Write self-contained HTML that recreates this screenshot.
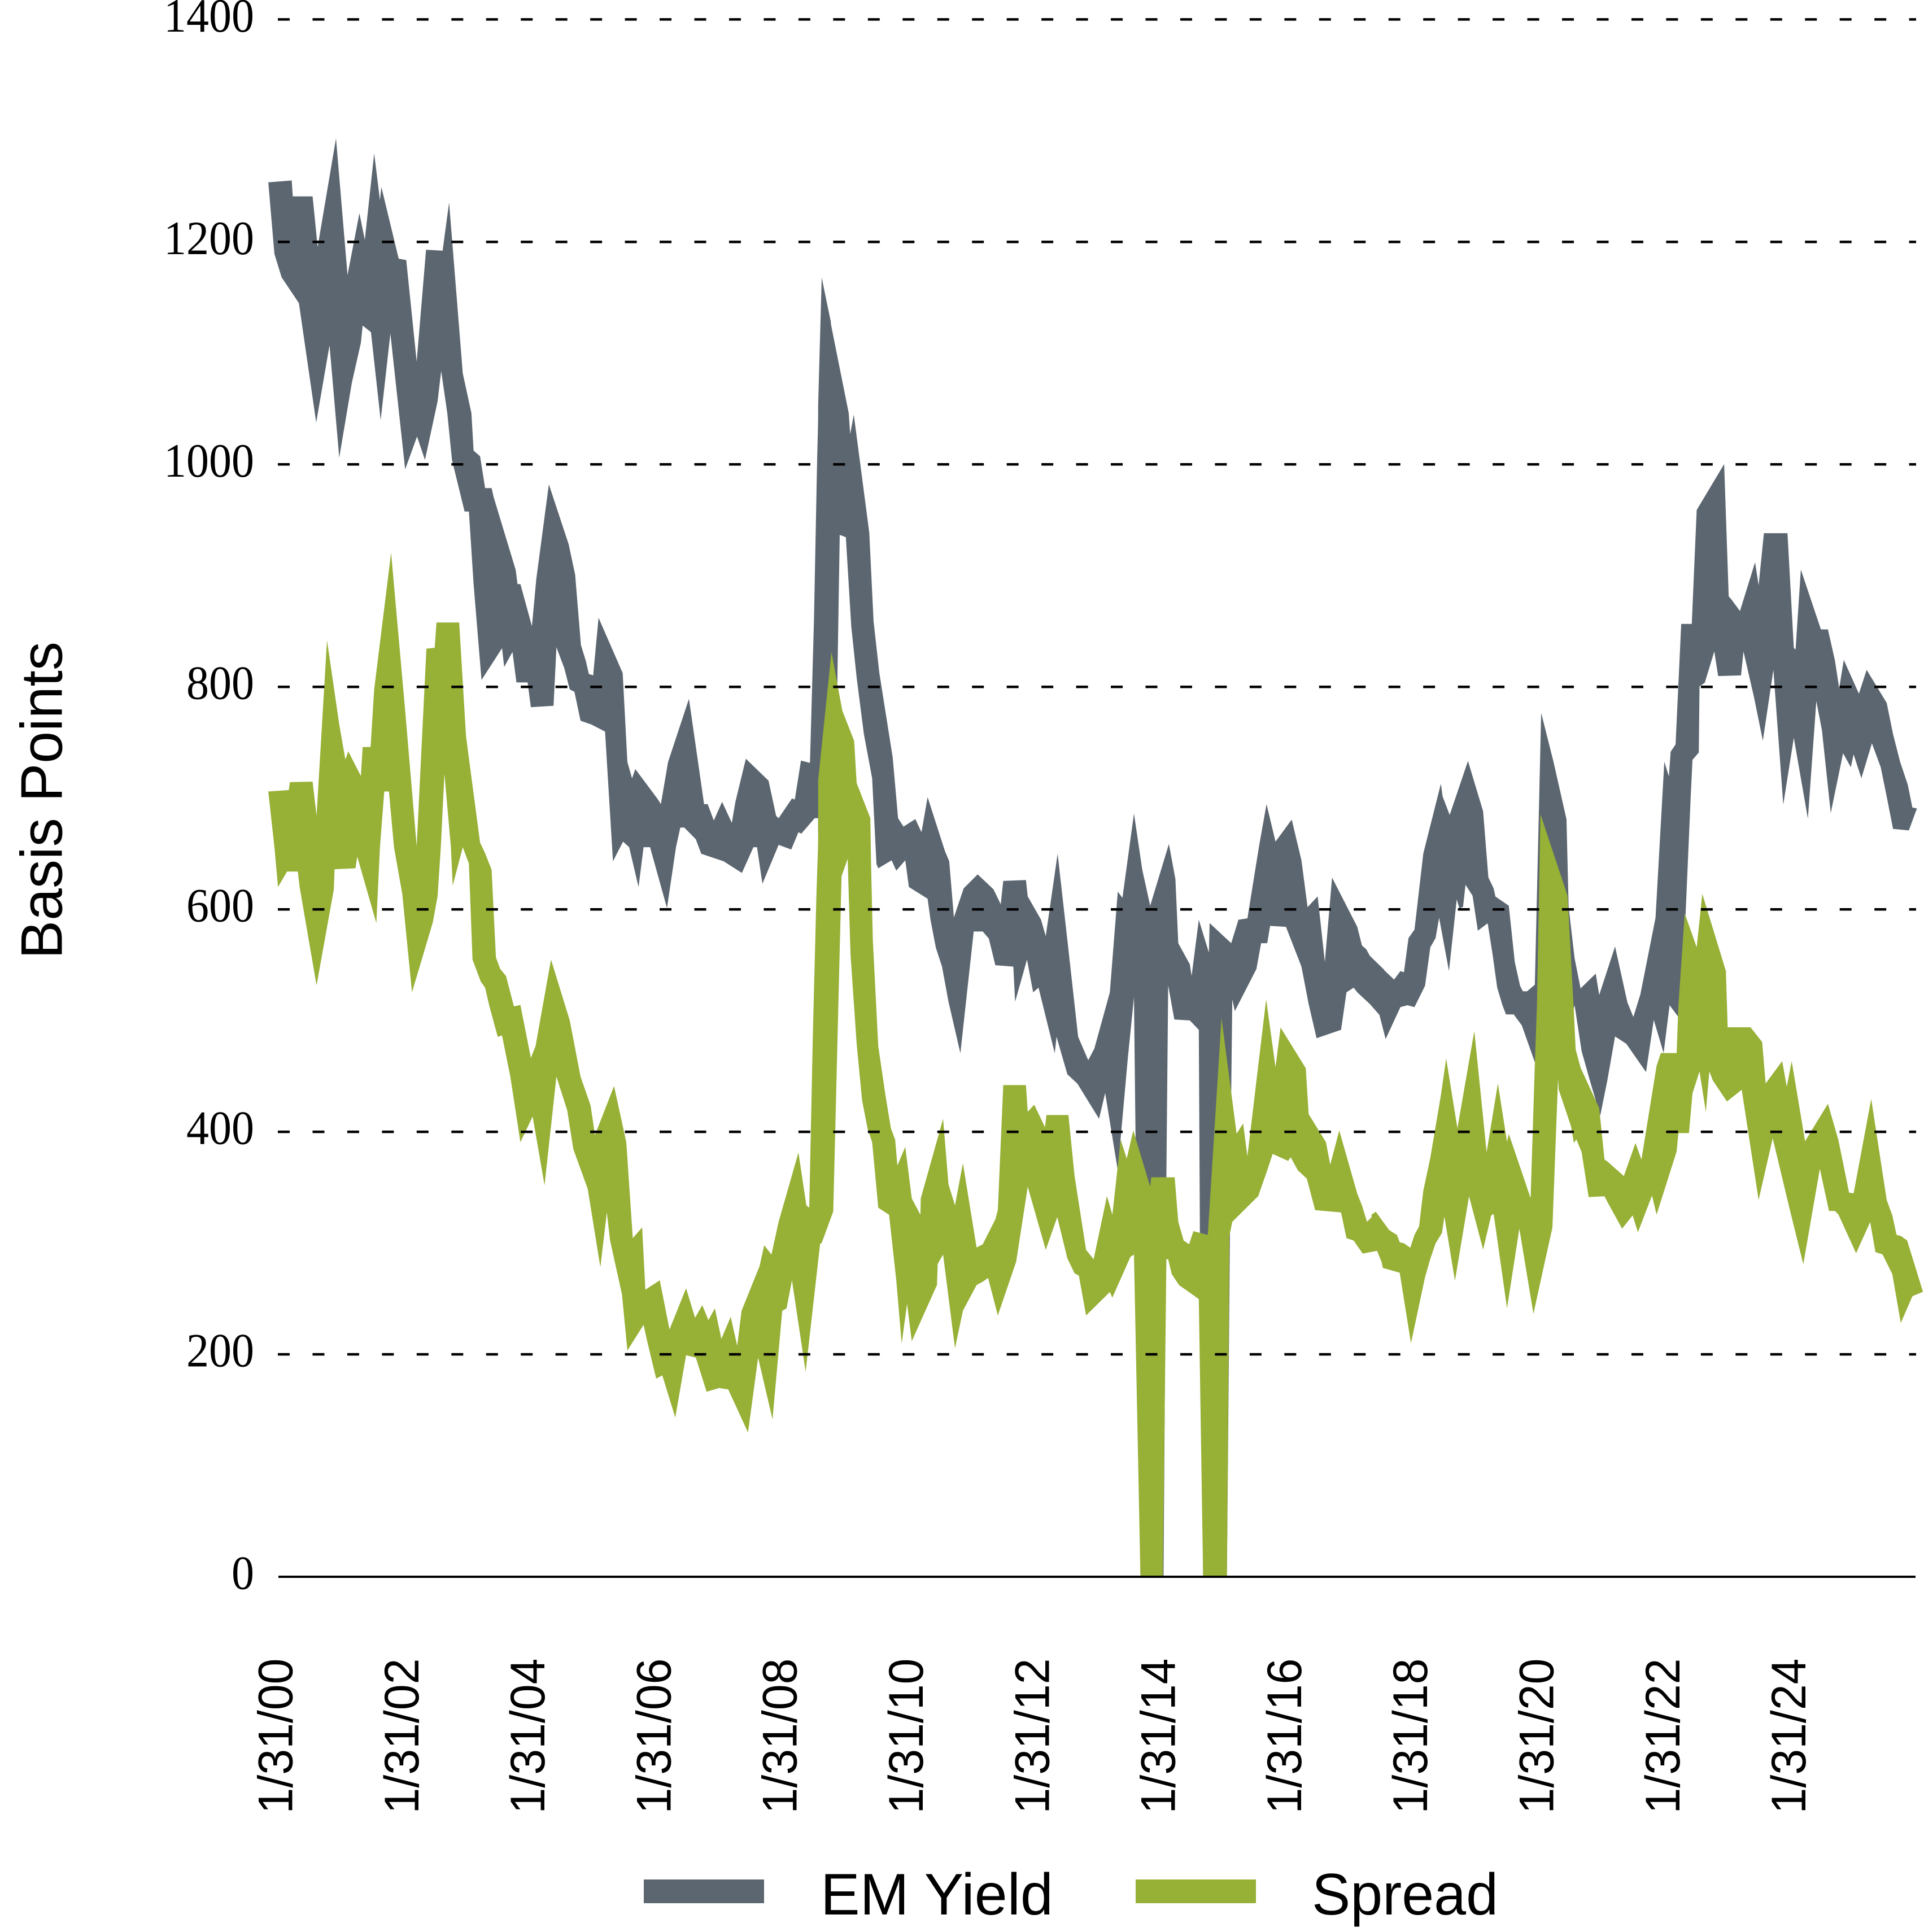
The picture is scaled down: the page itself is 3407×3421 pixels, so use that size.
<!DOCTYPE html>
<html>
<head>
<meta charset="utf-8">
<style>
html,body{margin:0;padding:0;background:#fff;}
svg{display:block;}
</style>
</head>
<body>
<svg width="3407" height="3421" viewBox="0 0 3407 3421" xmlns="http://www.w3.org/2000/svg">
<defs>
<clipPath id="plot"><rect x="0" y="0" width="3407" height="2790"/></clipPath>
</defs>
<rect x="0" y="0" width="3407" height="3421" fill="#ffffff"/>

<g clip-path="url(#plot)">
<!-- EM Yield (gray) -->
<g fill="#5c6670">
<g transform="translate(470,230) scale(0.637755,0.829082)">
<polygon points="8,112 73,108 76,142 131,142 145,250 196,18 228,310 261,178 276,235 302,50 318,150 322,122 370,275 391,278 420,495 446,256 492,258 510,155 548,520 572,605 578,685 596,697 610,765 628,765 634,785 695,940 700,970 708,970 740,1060 752,960 787,757 842,885 860,950 876,1100 890,1135 898,1162 910,1165 925,1042 992,1160 1005,1350 1018,1385 1027,1365 1090,1430 1098,1440 1118,1350 1176,1215 1218,1440 1228,1440 1245,1475 1268,1435 1295,1480 1305,1435 1334,1343 1397,1390 1418,1465 1425,1470 1462,1428 1470,1430 1487,1347 1512,1352 1523,1050 1532,700 1545,318 1570,410 1570,1480 1535,1470 1525,1470 1488,1503 1480,1500 1460,1537 1425,1527 1380,1610 1365,1532 1355,1532 1323,1587 1272,1562 1210,1546 1195,1515 1163,1490 1152,1490 1140,1532 1115,1662 1068,1532 1050,1532 1036,1617 1010,1532 993,1520 965,1562 943,1285 905,1270 875,1262 858,1200 845,1195 830,1150 808,1105 800,1230 737,1233 728,1180 697,1180 686,1115 663,1147 657,1107 600,1175 578,970 565,815 553,815 518,705 505,605 488,515 478,580 443,705 421,655 388,725 347,435 320,620 293,432 270,418 265,455 240,540 205,700 178,460 141,625 93,370 45,315 25,265"/>
</g>
<g transform="translate(1450,230) scale(0.637755,0.829082)">
<polygon points="-2,590 8,315 40,440 83,605 87,650 97,608 140,860 152,1050 168,1160 205,1340 220,1470 235,1488 268,1472 285,1500 302,1425 350,1540 362,1562 375,1682 402,1620 441,1590 485,1622 505,1654 512,1604 575,1602 580,1637 617,1687 630,1722 663,1546 690,1730 720,1937 748,1987 765,1962 808,1842 830,1627 843,1640 875,1460 898,1580 920,1657 972,1525 990,1600 998,1737 1030,1782 1035,1807 1055,1687 1083,1757 1085,1694 1145,1737 1165,1687 1190,1684 1222,1531 1243,1440 1268,1520 1313,1473 1340,1560 1357,1660 1385,1637 1405,1777 1425,1597 1495,1702 1508,1742 1520,1750 1530,1764 1570,1794 1570,1902 1530,1867 1495,1842 1485,1832 1465,1842 1450,1922 1382,1940 1360,1867 1340,1787 1297,1702 1253,1700 1245,1737 1228,1737 1215,1792 1155,1882 1148,1857 1145,2052 1133,3092 1067,3092 1058,2352 1055,1922 1030,1902 987,1900 970,1827 965,2232 957,3092 893,3092 875,1852 858,1982 830,2222 795,2057 778,2112 718,2037 690,2017 660,1937 655,1972 610,1832 595,1842 578,1772 545,1862 540,1787 490,1784 472,1727 455,1712 430,1712 393,1972 360,1862 342,1787 325,1747 310,1687 302,1642 250,1617 240,1560 215,1582 202,1560 165,1577 160,1568 148,1385 125,1290 105,1170 90,1060 75,870 58,865 52,1150 45,1500 -2,1500"/>
</g>
<g transform="translate(2430,760) scale(0.623087,0.650510)">
<polygon points="-2,1440 62,1498 80,1475 90,1478 103,1385 120,1362 145,1155 195,965 200,1000 220,1050 272,903 315,1040 330,1220 345,1250 350,1272 388,1297 405,1450 420,1515 428,1530 440,1530 462,1512 480,772 515,905 552,1062 558,1300 575,1440 592,1522 635,1482 645,1540 690,1408 725,1560 742,1600 762,1538 805,1330 830,905 843,945 848,878 862,858 878,530 908,530 922,220 1000,95 1013,455 1022,465 1045,495 1088,362 1098,425 1113,283 1180,283 1198,595 1203,600 1218,382 1275,545 1295,545 1315,630 1327,705 1340,628 1383,720 1405,655 1462,745 1480,830 1500,905 1522,968 1535,1030 1548,1032 1525,1092 1480,1088 1462,1000 1445,920 1420,855 1390,950 1368,885 1360,920 1338,882 1303,1045 1278,820 1262,740 1238,1060 1198,840 1168,1022 1140,655 1110,848 1085,730 1055,605 1048,670 983,672 972,605 945,690 930,700 928,880 910,900 905,1000 890,1330 870,1600 845,1568 828,1698 800,1608 778,1750 722,1673 690,1653 668,1773 648,1868 620,1778 595,1693 575,1568 560,1620 470,1640 462,1723 425,1623 402,1593 380,1593 370,1568 355,1520 342,1430 328,1345 300,1365 285,1270 265,1240 258,1300 248,1305 240,1280 218,1475 190,1330 180,1385 165,1410 150,1515 120,1573 100,1568 80,1573 38,1660 20,1593 -2,1568"/>
</g>
</g>

<!-- Spread (green) -->
<g fill="#97b036">
<g transform="translate(470,230) scale(0.637755,0.829082)">
<polygon points="8,1413 65,1410 68,1393 131,1392 142,1465 171,1090 205,1270 222,1345 230,1327 265,1380 270,1318 292,1318 302,1195 349,903 388,1240 420,1530 447,1108 470,1106 475,1052 538,1052 557,1295 575,1400 596,1522 610,1545 628,1580 640,1767 652,1792 668,1807 690,1872 708,1869 737,1982 750,1957 793,1772 845,1902 875,2022 903,2084 915,2147 968,2042 1002,2162 1020,2367 1046,2344 1055,2477 1095,2457 1122,2562 1168,2474 1193,2537 1213,2510 1230,2542 1248,2517 1266,2582 1292,2535 1310,2597 1322,2522 1372,2427 1385,2382 1405,2402 1425,2332 1480,2184 1502,2297 1510,2302 1520,1932 1530,1632 1540,1400 1570,1150 1570,2322 1540,2380 1500,2652 1462,2457 1447,2517 1435,2522 1408,2754 1368,2622 1340,2782 1285,2690 1260,2687 1225,2695 1195,2622 1168,2617 1138,2750 1102,2660 1085,2667 1060,2587 1050,2552 1005,2607 990,2487 957,2372 948,2312 930,2429 895,2262 855,2177 838,2094 808,2022 775,2254 742,2107 708,2162 680,2022 657,1934 645,1937 622,1872 610,1832 598,1819 575,1772 565,1567 548,1532 520,1614 515,1532 497,1375 487,1532 478,1637 465,1692 407,1842 380,1632 357,1532 343,1413 330,1413 318,1532 308,1694 255,1552 250,1577 192,1579 190,1622 142,1827 95,1617 90,1584 60,1584 35,1617 25,1532"/>
</g>
<g transform="translate(1450,230) scale(0.637755,0.829082)">
<polygon points="-2,1390 35,1115 65,1240 98,1305 105,1395 143,1470 145,1568 150,1732 165,1957 185,2062 200,2132 212,2157 218,2212 240,2172 258,2282 282,2317 283,2282 345,2112 360,2252 378,2297 400,2207 438,2387 455,2380 490,2327 497,2307 512,2040 575,2040 580,2097 598,2082 628,2130 632,2104 693,2104 710,2234 742,2392 763,2412 800,2277 815,2317 838,2157 855,2197 873,2137 920,2257 923,2237 988,2237 998,2332 1013,2372 1028,2380 1040,2352 1080,2360 1118,1897 1160,2144 1178,2122 1190,2192 1242,1857 1268,2002 1282,1917 1352,2004 1360,2102 1368,2112 1408,2162 1420,2210 1445,2137 1495,2272 1508,2297 1522,2332 1548,2312 1570,2342 1570,2432 1550,2394 1510,2400 1485,2372 1465,2367 1450,2312 1378,2307 1355,2240 1330,2222 1310,2194 1303,2202 1260,2187 1245,2222 1220,2277 1148,2332 1140,2362 1133,3092 1067,3092 1055,2497 1000,2467 980,2444 970,2412 965,2412 955,3092 893,3092 875,2402 865,2407 815,2494 808,2482 742,2532 722,2447 710,2442 690,2410 662,2322 630,2392 580,2257 548,2417 497,2532 470,2452 455,2460 438,2467 400,2522 378,2602 345,2402 330,2422 328,2467 290,2532 258,2587 245,2507 230,2592 215,2457 195,2317 165,2302 148,2162 135,2132 120,2072 105,1952 88,1762 80,1557 63,1594 40,2310 8,2377 -2,2382"/>
</g>
<g transform="translate(2430,760) scale(0.623087,0.650510)">
<polygon points="-2,2138 10,2130 48,2180 70,2193 78,2213 90,2216 108,2228 120,2193 133,2170 145,2073 165,1983 195,1813 210,1713 242,1903 290,1638 325,1968 357,1781 383,1940 388,1918 450,2093 462,1728 468,1568 478,1048 555,1270 572,1568 578,1688 592,1738 645,1848 660,1988 668,1993 715,2033 748,1943 765,1988 808,1733 820,1698 865,1698 870,1568 875,1500 888,1318 922,1410 938,1265 1005,1475 1010,1628 1075,1628 1108,1668 1118,1781 1165,1720 1178,1790 1192,1720 1230,1938 1295,1836 1325,1936 1355,2078 1368,2080 1418,1823 1462,2098 1478,2140 1490,2193 1502,2196 1520,2208 1565,2348 1535,2360 1502,2433 1478,2300 1450,2246 1430,2240 1415,2158 1375,2243 1325,2138 1315,2128 1298,2128 1272,2013 1225,2273 1185,2118 1138,1930 1098,2098 1050,1798 1008,1830 968,1773 958,1748 948,1858 930,1748 910,1808 900,1916 870,1916 865,1966 808,2138 795,2086 755,2186 740,2140 710,2176 668,2103 660,2088 615,2090 595,1968 580,1933 573,1943 565,1898 530,1798 528,1768 512,2173 490,2268 458,2408 418,2176 383,2393 345,2136 338,2140 315,2233 275,2088 235,2318 205,2143 198,2188 180,2216 165,2258 150,2308 110,2488 78,2296 30,2283 20,2236 -2,2236"/>
</g>
</g>
</g>

<!-- gridlines (drawn on top of series) -->
<g stroke="#000" stroke-width="4.5" stroke-dasharray="21 40.46" fill="none">
<line x1="492" y1="2398.1" x2="3393" y2="2398.1"/>
<line x1="492" y1="2004.1" x2="3393" y2="2004.1"/>
<line x1="492" y1="1610.2" x2="3393" y2="1610.2"/>
<line x1="492" y1="1216.2" x2="3393" y2="1216.2"/>
<line x1="492" y1="822.3" x2="3393" y2="822.3"/>
<line x1="492" y1="428.4" x2="3393" y2="428.4"/>
<line x1="492" y1="34.4" x2="3393" y2="34.4"/>
</g>
<line x1="493" y1="2792" x2="3392" y2="2792" stroke="#000" stroke-width="4"/>

<!-- y tick labels -->
<g font-family="'Liberation Serif', serif" font-size="80" fill="#000" text-anchor="end">
<text transform="translate(450,2813.5) scale(1,1.06)">0</text>
<text transform="translate(450,2419.6) scale(1,1.06)">200</text>
<text transform="translate(450,2025.6) scale(1,1.06)">400</text>
<text transform="translate(450,1631.7) scale(1,1.06)">600</text>
<text transform="translate(450,1237.7) scale(1,1.06)">800</text>
<text transform="translate(450,843.8) scale(1,1.06)">1000</text>
<text transform="translate(450,449.9) scale(1,1.06)">1200</text>
<text transform="translate(450,55.9) scale(1,1.06)">1400</text>
</g>

<!-- y axis title -->
<text transform="translate(109.5,1417) rotate(-90)" font-family="'Liberation Sans', Arial, sans-serif" font-size="104" text-anchor="middle" textLength="562" lengthAdjust="spacingAndGlyphs" fill="#000">Basis Points</text>

<!-- x tick labels -->
<g font-family="'Liberation Sans', Arial, sans-serif" font-size="86" fill="#000" text-anchor="middle">
<text transform="translate(517.5,3074) rotate(-90)" textLength="275" lengthAdjust="spacingAndGlyphs">1/31/00</text>
<text transform="translate(740.8,3074) rotate(-90)" textLength="275" lengthAdjust="spacingAndGlyphs">1/31/02</text>
<text transform="translate(964.1,3074) rotate(-90)" textLength="275" lengthAdjust="spacingAndGlyphs">1/31/04</text>
<text transform="translate(1187.4,3074) rotate(-90)" textLength="275" lengthAdjust="spacingAndGlyphs">1/31/06</text>
<text transform="translate(1410.7,3074) rotate(-90)" textLength="275" lengthAdjust="spacingAndGlyphs">1/31/08</text>
<text transform="translate(1634.0,3074) rotate(-90)" textLength="275" lengthAdjust="spacingAndGlyphs">1/31/10</text>
<text transform="translate(1857.3,3074) rotate(-90)" textLength="275" lengthAdjust="spacingAndGlyphs">1/31/12</text>
<text transform="translate(2080.6,3074) rotate(-90)" textLength="275" lengthAdjust="spacingAndGlyphs">1/31/14</text>
<text transform="translate(2303.9,3074) rotate(-90)" textLength="275" lengthAdjust="spacingAndGlyphs">1/31/16</text>
<text transform="translate(2527.2,3074) rotate(-90)" textLength="275" lengthAdjust="spacingAndGlyphs">1/31/18</text>
<text transform="translate(2750.5,3074) rotate(-90)" textLength="275" lengthAdjust="spacingAndGlyphs">1/31/20</text>
<text transform="translate(2973.8,3074) rotate(-90)" textLength="275" lengthAdjust="spacingAndGlyphs">1/31/22</text>
<text transform="translate(3197.1,3074) rotate(-90)" textLength="275" lengthAdjust="spacingAndGlyphs">1/31/24</text>
</g>

<!-- legend -->
<rect x="1140" y="3328" width="213" height="42" fill="#5c6670"/>
<text x="1453" y="3390" font-family="'Liberation Sans', Arial, sans-serif" font-size="104" textLength="412" lengthAdjust="spacingAndGlyphs" fill="#000">EM Yield</text>
<rect x="2011" y="3328" width="213" height="42" fill="#97b036"/>
<text x="2323" y="3390" font-family="'Liberation Sans', Arial, sans-serif" font-size="104" textLength="330" lengthAdjust="spacingAndGlyphs" fill="#000">Spread</text>
</svg>
</body>
</html>
